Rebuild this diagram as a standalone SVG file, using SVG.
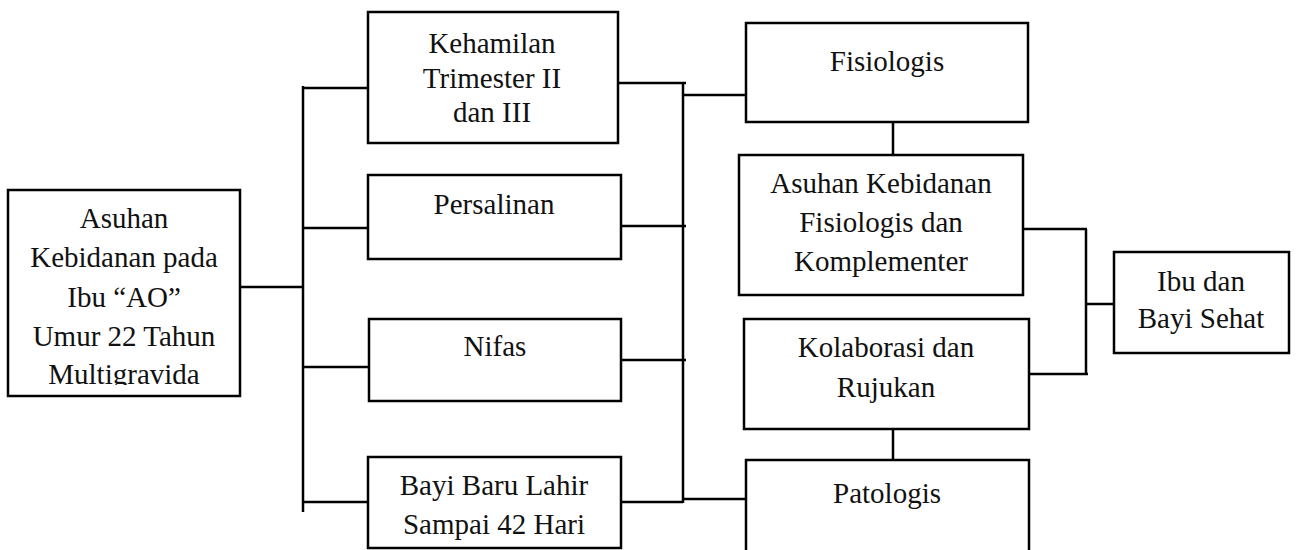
<svg xmlns="http://www.w3.org/2000/svg" width="1296" height="550" viewBox="0 0 1296 550">
<style>
.box{fill:#fff;stroke:#000;stroke-width:2.5}
.ln{fill:none;stroke:#000;stroke-width:2.5}
text{font-family:"Liberation Serif","Times New Roman",serif;font-size:29px;fill:#111;text-anchor:middle}
</style>
<defs>
<clipPath id="clipL"><rect x="8" y="190" width="232" height="195"/></clipPath>
</defs>
<rect width="1296" height="550" fill="#fff"/>
<g id="connectors">
<path class="ln" d="M240 287H303M303 86V512M303 88H368M303 228H368M303 367H369M303 502H368"/>
<path class="ln" d="M618 83H686M683 83V503M683 95H746M621 226H686M621 360H686M621 502H683M683 499H746"/>
<path class="ln" d="M893 122V155M893 429V460"/>
<path class="ln" d="M1023 229H1087M1086 229V375M1029 374H1088M1086 304H1115"/>
</g>
<g id="n-asuhan">
<rect class="box" x="8" y="190" width="232" height="206"/>
<g clip-path="url(#clipL)">
<text x="124" y="228">Asuhan</text>
<text x="124" y="267">Kebidanan pada</text>
<text x="124" y="307">Ibu “AO”</text>
<text x="124" y="346">Umur 22 Tahun</text>
<text x="124" y="384">Multigravida</text>
</g>
</g>
<g id="n-kehamilan">
<rect class="box" x="368" y="12" width="250" height="131"/>
<text x="492" y="53">Kehamilan</text>
<text x="492" y="88">Trimester II</text>
<text x="492" y="122">dan III</text>
</g>
<g id="n-persalinan">
<rect class="box" x="368" y="175" width="253" height="84"/>
<text x="494" y="214">Persalinan</text>
</g>
<g id="n-nifas">
<rect class="box" x="369" y="319" width="252" height="82"/>
<text x="495" y="356">Nifas</text>
</g>
<g id="n-bayi">
<rect class="box" x="368" y="457" width="253" height="91"/>
<text x="494" y="495">Bayi Baru Lahir</text>
<text x="494" y="534">Sampai 42 Hari</text>
</g>
<g id="n-fisiologis">
<rect class="box" x="746" y="23" width="282" height="99"/>
<text x="887" y="71">Fisiologis</text>
</g>
<g id="n-asuhan-keb">
<rect class="box" x="739" y="155" width="284" height="140"/>
<text x="881" y="193">Asuhan Kebidanan</text>
<text x="881" y="232">Fisiologis dan</text>
<text x="881" y="271">Komplementer</text>
</g>
<g id="n-kolaborasi">
<rect class="box" x="744" y="319" width="285" height="110"/>
<text x="886" y="357">Kolaborasi dan</text>
<text x="886" y="397">Rujukan</text>
</g>
<g id="n-patologis">
<rect class="box" x="746" y="460" width="283" height="100"/>
<text x="887" y="503">Patologis</text>
</g>
<g id="n-ibu">
<rect class="box" x="1114" y="252" width="175" height="101"/>
<text x="1201" y="291">Ibu dan</text>
<text x="1201" y="328">Bayi Sehat</text>
</g>
</svg>
